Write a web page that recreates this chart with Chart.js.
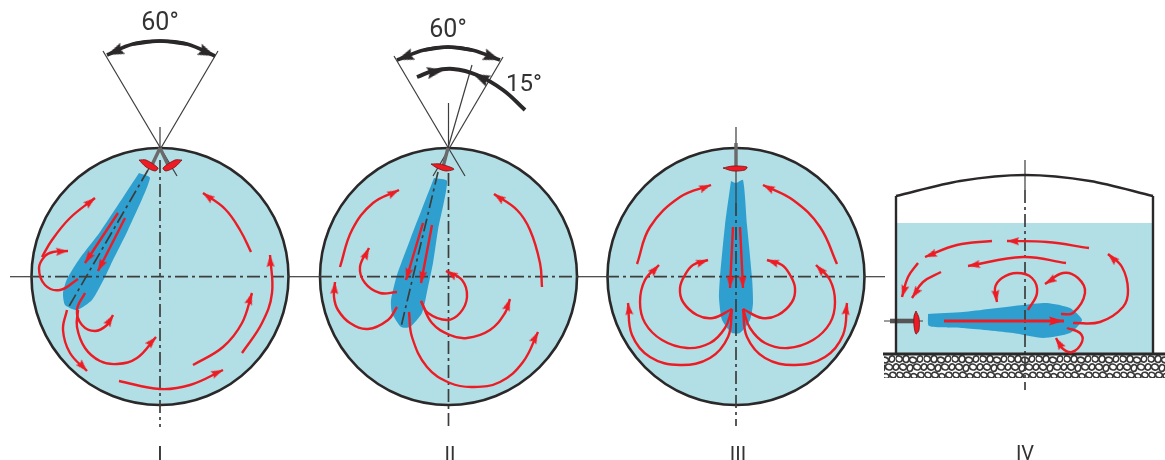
<!DOCTYPE html>
<html>
<head>
<meta charset="utf-8">
<title>Jet mixer positions</title>
<style>
  html, body { margin: 0; padding: 0; background: #fff; }
  canvas { display: block; }
</style>
<script src="https://cdn.jsdelivr.net/npm/chart.js@4"></script>
</head>
<body>
<canvas id="chart" width="1165" height="460"></canvas>
<script>
'use strict';
var BATH = '#b2dfe5';
var JET = '#2f9fcf';
var RED = '#ed1c24';
var DARK = '#2b2829';
var LINE = '#3d3d3d';

// tank circles seen from above
var circleCentres = [[160, 276.5], [448.5, 276.5], [736, 276.5]];

// tank IV side view
var waterBody = [[896, 223], [1153, 223], [1153, 353], [896, 353]];
var tankOutline = [[896, 353], [896, 196], [960, 181], [1025, 175], [1090, 181], [1153, 196], [1153, 353]];
var groundLine = [[883, 354], [1165, 354]];
var gravelBand = [[884, 355], [1165, 355], [1165, 381], [884, 381]];

// jets
var jetShapes = [
  [[139, 173], [150, 178], [128, 230], [113, 260], [105, 277], [92, 300], [77, 310], [65, 305], [63, 293], [67, 279], [80, 258], [100, 232]],
  [[434, 178], [447, 181], [438, 230], [433, 263], [428, 287], [422, 313], [410, 327], [401, 327], [392, 313], [391, 300], [397, 275], [410, 240]],
  [[731, 181], [736, 183], [743, 180], [747, 225], [752, 277], [753, 303], [750, 320], [740, 333], [732, 333], [722, 320], [719, 298], [720, 277], [725, 225]],
  [[928, 314], [963, 312], [1023, 305], [1047, 303], [1070, 308], [1082, 320], [1070, 333], [1043, 338], [1013, 333], [963, 328], [929, 326]]
];

// propeller blades
var bladeShapes = [
  [[139, 160], [146, 160], [158, 168], [155, 171], [146, 167]],
  [[182, 160], [175, 160], [163, 168], [166, 171], [175, 167]],
  [[431, 164], [440, 164], [454, 169], [446, 171], [437, 168]],
  [[723, 168], [733, 166], [747, 167], [745, 170], [733, 171]],
  [[916, 311], [919, 318], [919, 330], [916, 334], [914, 326], [914, 316]]
];

// mixer shafts
var shaftLines = [
  [[160, 148], [152, 165]],
  [[160, 148], [168, 165]],
  [[448, 148], [443, 167]],
  [[736, 143], [736, 168]]
];
var shaftFour = [[890, 321], [914, 321]];

// thin construction lines
var thinLines = [
  [[103, 51], [177, 176]],
  [[218, 51], [148, 170]],
  [[394, 56], [465, 176]],
  [[503, 57], [433, 176]],
  [[472, 65], [446, 155]],
  [[160, 127], [160, 150]],
  [[448.5, 103], [448.5, 150]],
  [[736, 127], [736, 203]],
  [[1025, 160], [1025, 190]],
  [[884, 321], [923, 321]],
  [[10, 276.7], [31, 276.7]],
  [[290, 276.7], [319, 276.7]],
  [[579, 276.7], [606, 276.7]],
  [[866, 276.7], [885, 276.7]]
];

// chain lines
var chainLines = [
  [[31, 276.7], [290, 276.7]],
  [[319, 276.7], [579, 276.7]],
  [[606, 276.7], [866, 276.7]],
  [[160, 160], [160, 427]],
  [[448.5, 173], [448.5, 427]],
  [[736, 203], [736, 426]],
  [[1025, 190], [1025, 390]],
  [[148, 170], [68, 308]],
  [[438, 172], [401, 327]]
];

// dark angle arcs, last point is the arrow tip
var angleArcs = [
  [[133, 44], [160, 41], [187, 44], [215, 56]],
  [[187, 44], [160, 41], [133, 44], [107, 55]],
  [[424, 50], [448, 47], [472, 50], [500, 60]],
  [[472, 50], [448, 47], [424, 50], [397, 60]]
];
var swingArc = [[417, 77], [433, 71], [453, 69], [477, 75], [503, 90], [525, 110]];
var swingHeads = [
  [[422, 74], [444, 70]],
  [[497, 85], [473, 74]]
];

// red flow arrows, last point is the arrow tip
var arrowsOne = [
  [[118, 213], [85, 263]],
  [[125, 218], [98, 271]],
  [[42, 257], [52, 240], [70, 218], [95, 198]],
  [[78, 279], [60, 290], [45, 285], [39, 268], [45, 256], [53, 252], [68, 251]],
  [[85, 293], [77, 310], [82, 325], [95, 331], [107, 325], [113, 315]],
  [[78, 310], [77, 327], [85, 348], [100, 361], [117, 364], [137, 358], [156, 337]],
  [[67, 310], [63, 330], [70, 353], [87, 371]],
  [[119, 381], [160, 389], [190, 385], [223, 370]],
  [[193, 365], [223, 347], [242, 323], [252, 293]],
  [[242, 353], [262, 323], [272, 293], [270, 255]],
  [[251, 252], [240, 230], [225, 209], [203, 193]]
];
var arrowsTwo = [
  [[423, 223], [406, 280]],
  [[432, 225], [421, 283]],
  [[340, 267], [352, 230], [373, 203], [399, 190]],
  [[542, 287], [540, 263], [530, 230], [517, 210], [494, 194]],
  [[397, 292], [380, 293], [365, 283], [360, 267], [369, 248]],
  [[397, 307], [388, 320], [368, 329], [350, 323], [338, 310], [334, 297], [335, 282]],
  [[421, 301], [428, 313], [447, 320], [460, 313], [467, 297], [462, 280], [446, 271]],
  [[421, 301], [432, 323], [450, 335], [467, 338], [490, 330], [505, 313], [510, 299]],
  [[409, 312], [412, 337], [427, 367], [450, 383], [473, 387], [500, 382], [523, 362], [538, 332]]
];
var arrowsThree = [
  [[733, 227], [730, 288]],
  [[740, 227], [743, 288]],
  [[637, 264], [650, 227], [680, 197], [711, 185]],
  [[837, 264], [820, 227], [793, 200], [763, 185]],
  [[732, 309], [713, 318], [697, 315], [683, 302], [680, 288], [685, 275], [693, 265], [708, 260]],
  [[743, 309], [762, 318], [778, 315], [792, 302], [795, 288], [790, 275], [782, 265], [767, 260]],
  [[732, 309], [725, 328], [710, 343], [687, 348], [662, 340], [645, 323], [640, 302], [645, 280], [659, 265]],
  [[743, 309], [750, 328], [765, 343], [788, 348], [813, 340], [830, 323], [835, 302], [830, 280], [816, 265]],
  [[732, 309], [728, 337], [710, 358], [680, 365], [650, 357], [632, 335], [628, 303]],
  [[743, 309], [747, 337], [765, 358], [795, 365], [825, 357], [843, 335], [847, 303]]
];
var arrowsFour = [
  [[1089, 248], [1047, 242], [1007, 241]],
  [[992, 241], [957, 245], [925, 257]],
  [[1066, 263], [1023, 257], [968, 266]],
  [[918, 263], [908, 277], [902, 297]],
  [[941, 272], [923, 282], [912, 298]],
  [[1073, 323], [1100, 322], [1123, 307], [1128, 290], [1122, 267], [1108, 254]],
  [[1028, 310], [1037, 293], [1032, 278], [1017, 273], [1002, 278], [995, 288], [997, 302]],
  [[1061, 314], [1073, 313], [1085, 293], [1078, 278], [1063, 273], [1045, 284]],
  [[1067, 328], [1080, 333], [1082, 342], [1072, 352], [1062, 348], [1056, 338]]
];
var mainArrowFour = [[944, 321], [1064, 321]];

// texts
var labelTexts = ['60°', '60°', '15°', 'I', 'II', 'III', 'IV'];
var labelX = [160, 448, 524, 160, 450, 738, 1025];
var labelY = [30, 37, 91, 461, 461, 461, 460];
var labelSizes = [25, 25, 24, 20, 20, 20, 20];

function toPoints(list) {
  return list.map(function (p) { return { x: p[0], y: p[1] }; });
}

function makeHead(length, width, colour) {
  // the tip sits at the middle of the sprite, the library centres it on the point
  var size = Math.ceil(length * 2 + 2);
  var sprite = document.createElement('canvas');
  sprite.width = size;
  sprite.height = size;
  var c = sprite.getContext('2d');
  c.fillStyle = colour;
  c.beginPath();
  c.moveTo(size / 2, size / 2);
  c.lineTo(size / 2 + width / 2, size / 2 + length);
  c.lineTo(size / 2, size / 2 + length * 0.85);
  c.lineTo(size / 2 - width / 2, size / 2 + length);
  c.closePath();
  c.fill();
  return sprite;
}

function makeGravel() {
  var tile = document.createElement('canvas');
  tile.width = 28;
  tile.height = 27;
  var c = tile.getContext('2d');
  c.fillStyle = '#fff';
  c.fillRect(0, 0, 28, 27);
  c.strokeStyle = '#3a3a3a';
  c.lineWidth = 1.7;
  [[3, 8, 3.3, 2.9], [10, 8, 3.0, 3.4], [17, 9, 3.6, 2.8], [24, 8, 2.8, 3.2],
   [0, 16, 2.8, 3.2], [7, 16, 3.6, 3.0], [14, 17, 2.8, 3.4], [21, 16, 3.6, 2.9], [28, 16, 2.8, 3.2],
   [4, 24, 3.2, 2.6], [11, 24, 3.4, 2.8], [18, 25, 3.0, 2.4], [25, 24, 3.2, 2.7]].forEach(function (o) {
    c.beginPath();
    c.ellipse(o[0], o[1], o[2], o[3], 0.3, 0, Math.PI * 2);
    c.stroke();
  });
  return c.createPattern(tile, 'repeat');
}

function shapeSet(list, colour, tension, edge) {
  return {
    data: toPoints(list.concat([list[0]])),
    showLine: true,
    fill: 'shape',
    backgroundColor: colour,
    borderColor: edge || colour,
    borderWidth: edge ? 0.8 : 0,
    tension: tension,
    pointRadius: 0
  };
}

function lineSet(list, colour, width, dash, tension) {
  return {
    data: toPoints(list),
    showLine: true,
    fill: false,
    borderColor: colour,
    borderWidth: width,
    borderDash: dash || [],
    tension: tension || 0,
    pointRadius: 0
  };
}

function arrowSet(list, colour, width, head) {
  var set = lineSet(list, colour, width, null, 0.4);
  var last = list.length - 1;
  var dx = list[last][0] - list[last - 1][0];
  var dy = list[last][1] - list[last - 1][1];
  set.pointStyle = head;
  set.pointRadius = list.map(function (p, i) { return i === last ? 5 : 0; });
  set.pointRotation = Math.atan2(dx, -dy) * 180 / Math.PI;
  set.pointBackgroundColor = colour;
  set.pointBorderWidth = 0;
  return set;
}

var redHead = makeHead(12, 8, RED);
var bigRedHead = makeHead(15, 9, RED);
var darkHead = makeHead(17, 12, DARK);

// painter's order, reversed at the end because Chart.js draws the first dataset last
var sets = [];

circleCentres.forEach(function (c) {
  sets.push({
    data: toPoints([c]),
    pointRadius: 128.5,
    pointBackgroundColor: BATH,
    pointBorderColor: DARK,
    pointBorderWidth: 2.6
  });
});
sets.push(shapeSet(waterBody, BATH, 0));
sets.push(shapeSet(gravelBand, makeGravel(), 0));
jetShapes.forEach(function (s) { sets.push(shapeSet(s, JET, 0.2)); });
chainLines.forEach(function (l) { sets.push(lineSet(l, LINE, 1.7, [13, 4, 3, 4])); });
thinLines.forEach(function (l) { sets.push(lineSet(l, LINE, 1.2)); });
shaftLines.forEach(function (l) { sets.push(lineSet(l, '#6a6a6a', 3.4)); });
sets.push(lineSet(shaftFour, '#555', 4.6));
bladeShapes.forEach(function (s) { sets.push(shapeSet(s, RED, 0.3, '#7a1015')); });
sets.push(lineSet(tankOutline.slice(0, 2), DARK, 2.4));
sets.push(lineSet(tankOutline.slice(1, 6), DARK, 2.4, null, 0.3));
sets.push(lineSet(tankOutline.slice(5), DARK, 2.4));
sets.push(lineSet(groundLine, DARK, 3));
angleArcs.forEach(function (a) { sets.push(arrowSet(a, DARK, 3.6, darkHead)); });
sets.push(lineSet(swingArc, DARK, 4, null, 0.4));
swingHeads.forEach(function (a) { sets.push(arrowSet(a, DARK, 0.1, darkHead)); });
[arrowsOne, arrowsTwo, arrowsThree, arrowsFour].forEach(function (group) {
  group.forEach(function (a) { sets.push(arrowSet(a, RED, 2.4, redHead)); });
});
sets.push(arrowSet(mainArrowFour, RED, 3, bigRedHead));

var labelPlugin = {
  id: 'labelPlugin',
  afterDatasetsDraw: function (chart) {
    var ctx = chart.ctx;
    ctx.save();
    ctx.fillStyle = '#333';
    ctx.textAlign = 'center';
    ctx.textBaseline = 'alphabetic';
    labelTexts.forEach(function (text, i) {
      ctx.font = '400 ' + labelSizes[i] + 'px Roboto';
      ctx.fillText(text, chart.scales.x.getPixelForValue(labelX[i]), chart.scales.y.getPixelForValue(labelY[i]));
    });
    ctx.restore();
  }
};

new Chart(document.getElementById('chart'), {
  type: 'scatter',
  data: { datasets: sets.reverse() },
  plugins: [labelPlugin],
  options: {
    responsive: false,
    animation: false,
    events: [],
    clip: false,
    layout: { padding: 0, autoPadding: false },
    plugins: { legend: { display: false }, tooltip: { enabled: false } },
    scales: {
      x: { type: 'linear', display: false, min: 0, max: 1165 },
      y: { type: 'linear', display: false, min: 0, max: 460, reverse: true }
    }
  }
});
</script>
</body>
</html>
